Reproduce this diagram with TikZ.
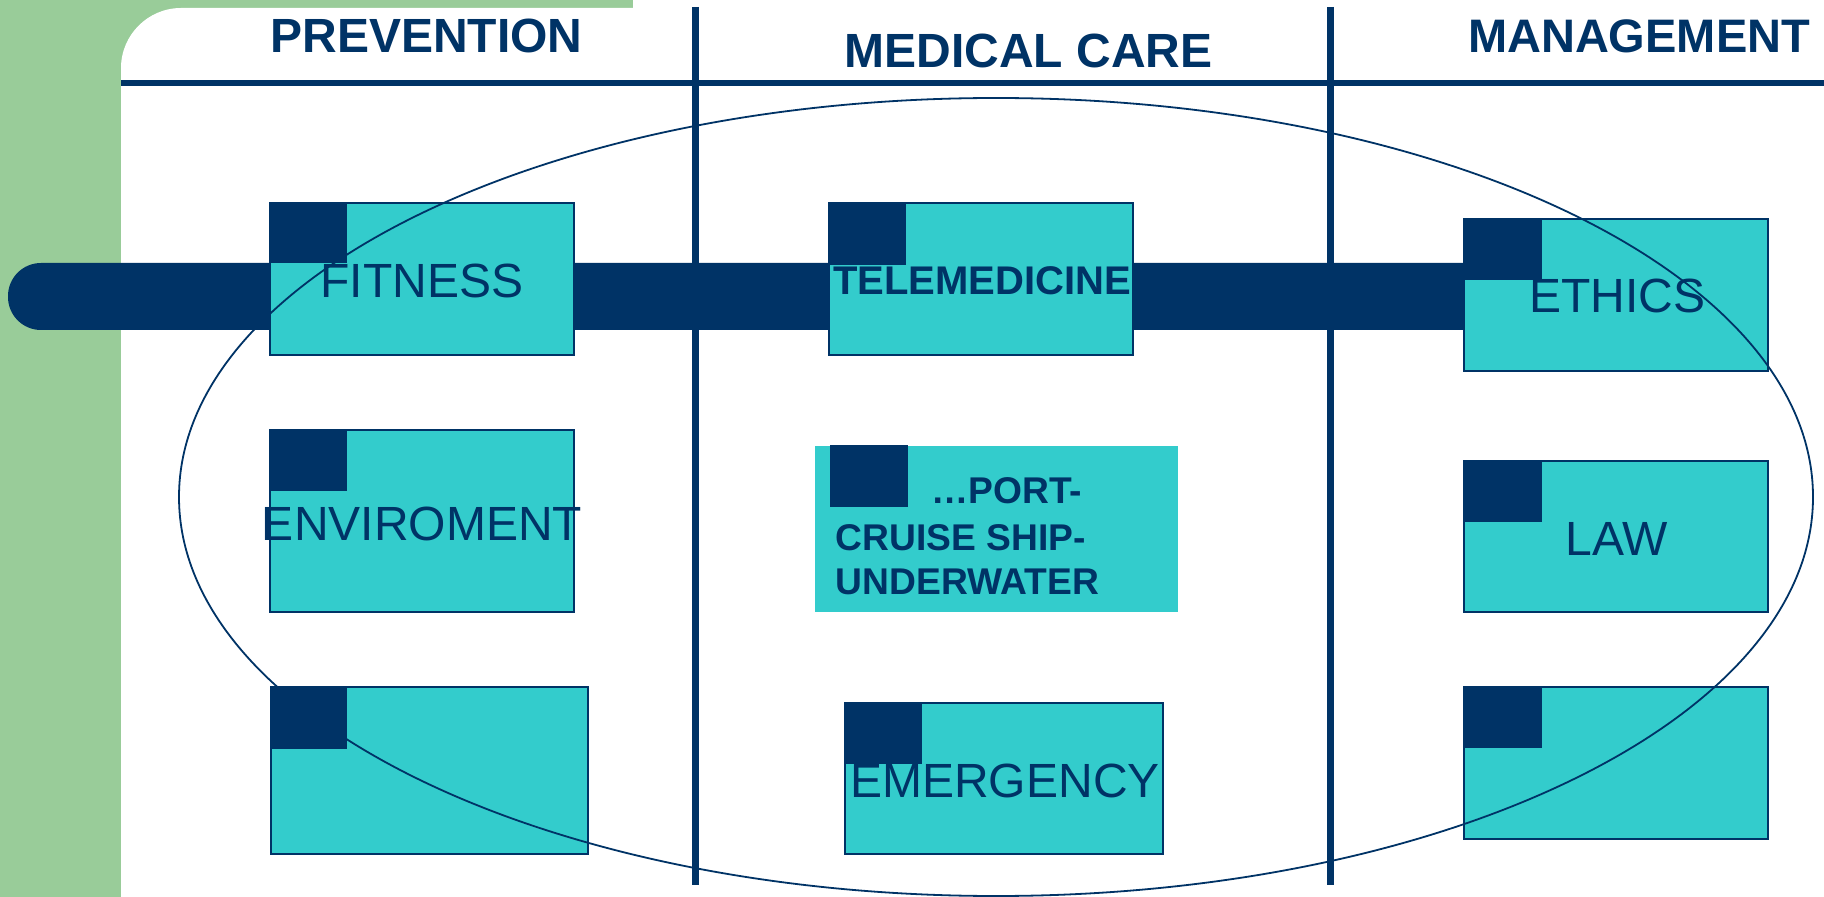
\documentclass[tikz,border=0pt]{standalone}
\usepackage{fontspec}
\setmainfont{Liberation Sans}
\definecolor{navy}{HTML}{003366}
\definecolor{tealc}{HTML}{33CCCC}
\definecolor{greenc}{HTML}{99CC99}
\begin{document}
\begin{tikzpicture}[x=0.5pt,y=-0.5pt,
  cbox/.style={fill=tealc, draw=navy, line width=1pt},
  sq/.style={fill=navy},
  lbl/.style={text=navy, inner sep=0pt, anchor=base, font=\fontsize{24}{28}\selectfont},
  head/.style={text=navy, inner sep=0pt, anchor=base, font=\bfseries\fontsize{24}{28}\selectfont},
  porttxt/.style={text=navy, inner sep=0pt, anchor=base west, font=\bfseries\fontsize{18.6}{23}\selectfont},
  colline/.style={navy, line width=3.5pt}
]
\useasboundingbox (0,0) rectangle (1824,897);
\fill[white] (0,0) rectangle (1824,897);
% green frame
\fill[greenc] (0,0) rectangle (121,897);
\fill[greenc] (0,0) rectangle (633,120);
\fill[white] (121,960) -- (121,68) .. controls (121,35) and (148,8) .. (181,8) -- (1900,8) -- (1900,960) -- cycle;
% header and column lines
\draw[navy, line width=3pt] (121,83.5) -- (1824,83.5);
\draw[colline] (695,7) -- (695,885);
\draw[colline] (1330,7) -- (1330,885);
% headers
\node[head] (hprev) at (426.5,53) {PREVENTION};
\node[head] (hmed) at (1028.6,68) {MEDICAL CARE};
\node[head, font=\bfseries\fontsize{23.5}{28}\selectfont] (hman) at (1639,53) {MANAGEMENT};
% bar
\fill[navy, rounded corners=16.5pt] (8,263) rectangle (1500,330);
% boxes
\draw[cbox] (270,203) rectangle (574,355);
\draw[cbox] (270,430) rectangle (574,612);
\draw[cbox] (271,687) rectangle (588,854);
\draw[cbox] (829,203) rectangle (1133,355);
\fill[tealc] (815,446) rectangle (1178,612);
\draw[cbox] (845,703) rectangle (1163,854);
\draw[cbox] (1464,219) rectangle (1768,371);
\draw[cbox] (1464,461) rectangle (1768,612);
\draw[cbox] (1464,687) rectangle (1768,839);
% ellipse
\draw[navy, line width=0.9pt] (996,497) ellipse [x radius=408.5pt, y radius=199.5pt];
% dark squares
\fill[sq] (270,203) rectangle (347,263);
\fill[sq] (270,430) rectangle (347,491);
\fill[sq] (271,687) rectangle (347,749);
\fill[sq] (829,203) rectangle (906,265);
\fill[sq] (830,445) rectangle (908,507);
\fill[sq] (845,703) rectangle (922,764);
\fill[sq] (1464,219) rectangle (1542,280);
\fill[sq] (1464,461) rectangle (1542,522);
\fill[sq] (1464,687) rectangle (1542,748);
% labels
\node[lbl] (tfit) at (422,298) {FITNESS};
\node[lbl] (tenv) at (422,540) {ENVIROMENT};
\node[head, font=\bfseries\fontsize{20}{24}\selectfont] (ttele) at (982,295) {TELEMEDICINE};
\node[porttxt] (tport1) at (931,503) {…PORT-};
\node[porttxt] (tport2) at (835.5,550) {CRUISE SHIP-};
\node[porttxt] (tport3) at (835.5,594) {UNDERWATER};
\node[lbl] (temer) at (1005,797) {EMERGENCY};
\node[lbl] (teth) at (1617,313) {ETHICS};
\node[lbl] (tlaw) at (1617,555) {LAW};
\end{tikzpicture}
\end{document}
